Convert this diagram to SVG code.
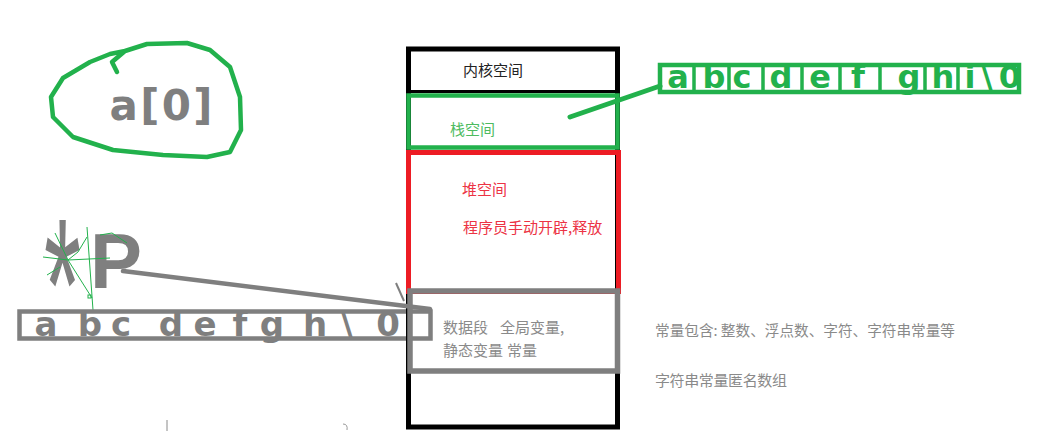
<svg xmlns="http://www.w3.org/2000/svg" width="1050" height="431" viewBox="0 0 1050 431">
<style>
.cn{font-family:"Noto Sans CJK SC","Noto Sans",sans-serif;font-size:15px}
.hand{font-family:"DejaVu Sans",sans-serif;font-weight:bold;text-anchor:middle}
.thin{stroke:#22b14c;stroke-width:1;fill:none}
</style>
<rect width="1050" height="431" fill="#ffffff"/>

<g id="blob">
<path d="M117,72 L112,62 L125,51 L147,44 L187,43 L210,50 L230,67 L240,97 L241,130 L230,152 L207,157 L163,155 L113,150 L73,137 L53,117 L51,97 L63,78 L90,62 L110,54 L125,51" fill="none" stroke="#22b14c" stroke-width="4.5" stroke-linejoin="round" stroke-linecap="round"/>
<text class="hand" x="161" y="120" font-size="42" fill="#7f7f7f" textLength="103" lengthAdjust="spacing">a[0]</text>
</g>

<g id="pointer">
<text x="44" y="350" font-family="Liberation Sans" font-size="190" fill="#7f7f7f" transform="translate(44,0) scale(0.5,1) translate(-44,0)">*</text>
<text x="90" y="288" font-family="Liberation Sans" font-weight="bold" font-size="78" fill="#7f7f7f">P</text>
<path class="thin" d="M87,227 L93,310 M68,260 L110,258 M68,260 L92,298 M43,257 L68,260 M47,275 L60,267 M55,233 L68,260 M87,237 L78,252 L68,260 M112,233 L127,243 M100,235 L112,233"/>
<rect x="88" y="295" width="3" height="3" fill="none" stroke="#22b14c" stroke-width="1"/>
</g>

<g id="gray-array">
<rect x="19.5" y="311.5" width="411" height="27" fill="none" stroke="#7f7f7f" stroke-width="4.5"/>
<text class="hand" font-size="34" fill="#7f7f7f" y="336" x="46 90 121 171 205 240 272 315 347 388">abcdefgh\0</text>
</g>

<g id="memory">
<rect x="408.5" y="49" width="209" height="378" fill="none" stroke="#000" stroke-width="5"/>
<line x1="406" y1="91.5" x2="620" y2="91.5" stroke="#000" stroke-width="3"/>
<text class="cn" x="463" y="76" fill="#222">内核空间</text>
</g>

<g id="stack">
<rect x="408.5" y="95.5" width="209" height="52" fill="none" stroke="#22b14c" stroke-width="4.5"/>
<text class="cn" x="450" y="135" fill="#4dbb60">栈空间</text>
</g>

<g id="heap">
<rect x="408.5" y="152.5" width="210" height="139" fill="none" stroke="#ed1c24" stroke-width="5"/>
<text class="cn" x="462" y="195" fill="#ec3344">堆空间</text>
<text class="cn" x="463" y="233" fill="#ec3344">程序员手动开辟,释放</text>
</g>

<g id="data">
<rect x="410" y="291" width="207.5" height="80" fill="none" stroke="#7f7f7f" stroke-width="5.5"/>
<text class="cn" x="443" y="333" fill="#8a8a8a">数据段</text>
<text class="cn" x="500" y="333" fill="#8a8a8a">全局变量,</text>
<text class="cn" x="443" y="356" fill="#8a8a8a">静态变量</text>
<text class="cn" x="507" y="356" fill="#8a8a8a">常量</text>
</g>

<g id="notes">
<text class="cn" x="655" y="336" font-size="14" fill="#8a8a8a" textLength="300" lengthAdjust="spacingAndGlyphs">常量包含: 整数、浮点数、字符、字符串常量等</text>
<text class="cn" x="655" y="386" font-size="14" fill="#8a8a8a" textLength="132" lengthAdjust="spacing">字符串常量匿名数组</text>
</g>

<g id="green-array">
<rect x="660" y="65" width="359" height="27" fill="none" stroke="#22b14c" stroke-width="4.5"/>
<path d="M694,65 V92 M729,65 V92 M763,65 V92 M802,65 V92 M840,65 V92 M880,65 V92 M925,65 V92 M958,65 V92" stroke="#22b14c" stroke-width="3.5"/>
<text class="hand" font-size="32" fill="#22b14c" y="88" x="678 714 742 781 820 858 909 943 970 987 1010">abcdefghi\0</text>
</g>

<g id="connectors">
<line x1="570" y1="117" x2="660" y2="86" stroke="#22b14c" stroke-width="5" stroke-linecap="round"/>
<line x1="123" y1="271" x2="430" y2="309" stroke="#7f7f7f" stroke-width="4.5" stroke-linecap="round"/>
<line x1="396" y1="283" x2="404" y2="301" stroke="#7f7f7f" stroke-width="2"/>
<line x1="167" y1="420" x2="167" y2="431" stroke="#8a8a8a" stroke-width="1"/>
<path d="M343,424 Q348,424 347,430" fill="none" stroke="#999" stroke-width="1"/>
</g>
</svg>
